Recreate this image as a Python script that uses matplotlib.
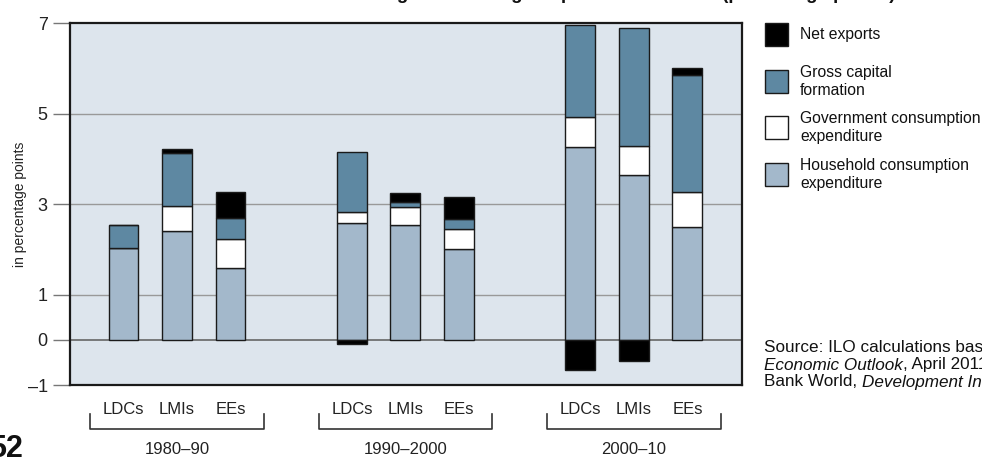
import matplotlib
matplotlib.use('Agg')
import matplotlib.pyplot as plt
import matplotlib.transforms as mtransforms
from matplotlib.patches import Rectangle
import numpy as np

plt.rcParams['font.family'] = ['Liberation Sans', 'DejaVu Sans']

# data (percentage points)
periods = ['1980–90', '1990–2000', '2000–10']
regions = ['LDCs', 'LMIs', 'EEs']
household = [2.02, 2.41, 1.59, 2.59, 2.53, 2.01, 4.27, 3.65, 2.49]
government = [0.00, 0.54, 0.63, 0.23, 0.40, 0.43, 0.65, 0.64, 0.77]
capital = [0.52, 1.17, 0.48, 1.34, 0.11, 0.23, 2.03, 2.60, 2.58]
net_exports = [0.00, 0.09, 0.56, -0.10, 0.20, 0.48, -0.66, -0.48, 0.17]

yticks = [-1, 0, 1, 3, 5, 7]
ytick_labels = ['–1', '0', '1', '3', '5', '7']

legend_labels = ['Net exports', 'Gross capital\nformation',
                 'Government consumption\nexpenditure',
                 'Household consumption\nexpenditure']

c_house = '#a3b8cb'
c_cap = '#5e88a2'
c_gov = '#ffffff'
c_nx = '#000000'
edge = '#1a1a1a'

W, H = 982, 459
fig = plt.figure(figsize=(W / 100, H / 100), dpi=100)


def px(x, y):
    return x / W, 1 - y / H


ax = fig.add_axes([70 / W, 1 - 385 / H, 672 / W, 362 / H])
ax.set_facecolor('#dde5ed')

group_base = np.array([1.0, 5.27, 9.54])
xpos = (group_base[:, None] + np.arange(3)[None, :]).ravel()
bw = 0.56

household = np.array(household)
government = np.array(government)
capital = np.array(capital)
net_exports = np.array(net_exports)

kw = dict(width=bw, edgecolor=edge, linewidth=1.0, zorder=3)
ax.bar(xpos, household, color=c_house, **kw)
ax.bar(xpos, government, bottom=household, color=c_gov, **kw)
ax.bar(xpos, capital, bottom=household + government, color=c_cap, **kw)
top = household + government + capital
nx_bottom = np.where(net_exports >= 0, top, 0)
ax.bar(xpos, net_exports, bottom=nx_bottom, color=c_nx, **kw)

ax.set_xlim(0, 12.56)
ax.set_ylim(-1, 7)
ax.set_yticks(yticks)
ax.set_yticklabels(ytick_labels, fontsize=13, color='#222222')
ax.tick_params(axis='y', length=12, width=1, color='#777777', pad=4)
ax.set_xticks([])
for v in [1, 3, 5]:
    ax.axhline(v, color='#999999', lw=1, zorder=1)
ax.axhline(0, color='#666666', lw=1.2, zorder=2)
for s in ax.spines.values():
    s.set_linewidth(1.6)
    s.set_color('#1a1a1a')

fig.text(*px(20, 204), 'in percentage points', rotation=90, ha='center', va='center',
         fontsize=10, color='#222222')

# region labels and period brackets
trans = mtransforms.blended_transform_factory(ax.transData, ax.transAxes)


def ay(ypx):
    return (385 - ypx) / 362


for x, r in zip(xpos, regions * 3):
    ax.text(x, ay(410), r, transform=trans, ha='center', va='center',
            fontsize=12, color='#222222')
for g, p in zip(group_base, periods):
    x0, x1 = g - 0.62, g + 2.62
    ax.plot([x0, x0, x1, x1], [ay(414), ay(429), ay(429), ay(414)],
            transform=trans, color='#333333', lw=1.2, clip_on=False)
    ax.text(g + 1, ay(450), p, transform=trans, ha='center', va='center',
            fontsize=12, color='#222222')

# legend
colors = [c_nx, c_cap, c_gov, c_house]
sq_top = [23, 70, 116, 163]
for c, t, lab in zip(colors, sq_top, legend_labels):
    x0, y0 = px(765, t + 23)
    fig.patches.append(Rectangle((x0, y0), 23 / W, 23 / H, transform=fig.transFigure,
                                 facecolor=c, edgecolor=edge, lw=1))
    fig.text(*px(800, t + 11.5), lab, ha='left', va='center', fontsize=11.3,
             color='#111111', linespacing=1.3)

# source note (clipped at the right edge like the original)
fs = 12.3
fig.text(*px(764, 347), 'Source: ILO calculations based on IMF, World',
         ha='left', va='center', fontsize=fs, color='#111111')
t2 = fig.text(*px(764, 365), 'Economic Outlook', ha='left', va='center',
              fontsize=fs, style='italic', color='#111111')
plt.annotate(', April 2011; and World', xy=(1, 0), xycoords=t2, ha='left', va='bottom',
             fontsize=fs, color='#111111')
t3 = fig.text(*px(764, 382), 'Bank World, ', ha='left', va='center',
              fontsize=fs, color='#111111')
plt.annotate('Development Indicators.', xy=(1, 0), xycoords=t3, ha='left', va='bottom',
             fontsize=fs, style='italic', color='#111111')

# title (only the descenders show at the top of the page crop)
fig.text(*px(895, -0.5), 'Contributions to growth during the period 1980–2010 (percentage points)',
         ha='right', va='baseline', fontsize=13.5, fontweight='bold', color='#111111')

# page number
fig.text(*px(-11, 457), '52', ha='left', va='baseline', fontsize=22,
         fontweight='bold', color='#111111')

fig.savefig('out.png', dpi=100)
